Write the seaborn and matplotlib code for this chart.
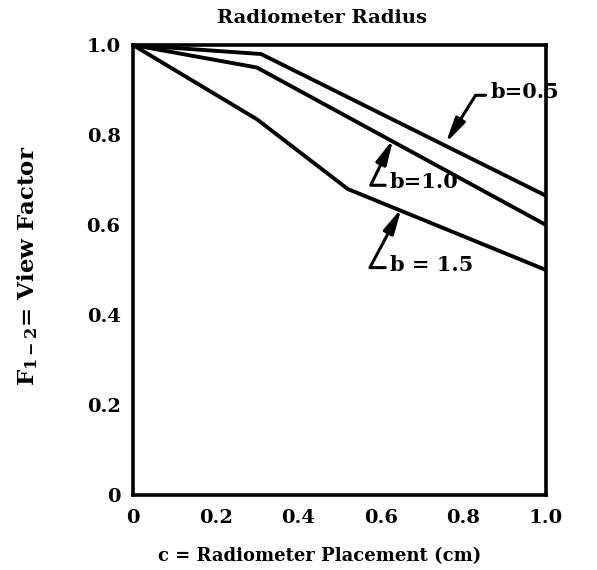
import numpy as np
import pandas as pd
import matplotlib
matplotlib.use("Agg")
import matplotlib.pyplot as plt
import seaborn as sns

# View factor curves for three radiometer radii
c_b05 = [0.0, 0.31, 1.0]
f_b05 = [1.0, 0.98, 0.665]
c_b10 = [0.0, 0.30, 1.0]
f_b10 = [1.0, 0.95, 0.60]
c_b15 = [0.0, 0.30, 0.52, 1.0]
f_b15 = [1.0, 0.835, 0.68, 0.50]

series_names = ["b=0.5", "b=1.0", "b = 1.5"]
x_ticks = [0, 0.2, 0.4, 0.6, 0.8, 1.0]
x_tick_labels = ["0", "0.2", "0.4", "0.6", "0.8", "1.0"]
y_ticks = [0, 0.2, 0.4, 0.6, 0.8, 1.0]
y_tick_labels = ["0", "0.2", "0.4", "0.6", "0.8", "1.0"]

frames = []
for name, cs, fs in zip(series_names, [c_b05, c_b10, c_b15], [f_b05, f_b10, f_b15]):
    frames.append(pd.DataFrame({"c": cs, "F": fs, "b": name}))
df = pd.concat(frames, ignore_index=True)

sns.set_theme(style="white")
plt.rcParams["font.family"] = ["DejaVu Serif"]
plt.rcParams["font.weight"] = "bold"
plt.rcParams["mathtext.fontset"] = "dejavuserif"
for key in ["text.color", "axes.labelcolor", "xtick.color", "ytick.color"]:
    plt.rcParams[key] = "black"

fig = plt.figure(figsize=(5.97, 5.70), dpi=100)
ax = fig.add_axes([0.2228, 0.1316, 0.6918, 0.7894])

sns.lineplot(data=df, x="c", y="F", hue="b", units="b", estimator=None,
             palette=["black"] * 3, linewidth=2.8, legend=False, ax=ax,
             sort=False)
for ln in ax.lines:
    ln.set_solid_joinstyle("round")
    ln.set_solid_capstyle("round")

ax.set_xlim(0, 1.0)
ax.set_ylim(0, 1.0)
ax.set_xticks(x_ticks)
ax.set_xticklabels(x_tick_labels)
ax.set_yticks(y_ticks)
ax.set_yticklabels(y_tick_labels)
ax.tick_params(direction="in", length=7, width=2.2, colors="black",
               labelsize=14, pad=10)
ax.tick_params(axis="y", pad=9)
for lab in ax.get_xticklabels() + ax.get_yticklabels():
    lab.set_fontweight("bold")
for sp in ax.spines.values():
    sp.set_linewidth(2.6)
    sp.set_color("black")

title = ax.set_title("Radiometer Radius", fontsize=14, fontweight="bold", pad=16)
title.set_x(0.458)
ax.set_xlabel("c = Radiometer Placement (cm)", fontsize=13,
              fontweight="bold")
ax.xaxis.set_label_coords(0.453, -0.115)
ax.set_ylabel(r"$\mathbf{F}_{\mathbf{1-2}}$= View Factor", fontsize=16.5,
              fontweight="bold")
ax.yaxis.set_label_coords(-0.225, 0.51)

# Callout labels with leader arrows onto each curve
label_specs = [
    # name, cs, fs, tip c, text c, text F, angleB
    (series_names[0], c_b05, f_b05, 0.757, 0.865, 0.895, 58),
    (series_names[1], c_b10, f_b10, 0.63, 0.622, 0.695, 244),
    (series_names[2], c_b15, f_b15, 0.65, 0.622, 0.512, 242),
]
for name, cs, fs, tip_c, tx, ty, angB in label_specs:
    tip_f = float(np.interp(tip_c, cs, fs))
    ax.annotate(
        name, xy=(tip_c, tip_f + 0.006), xytext=(tx, ty),
        fontsize=15, fontweight="bold", ha="left", va="center",
        annotation_clip=False,
        arrowprops=dict(arrowstyle="-|>,head_length=1.0,head_width=0.22",
                        color="black", lw=2.2, shrinkA=1, shrinkB=0,
                        relpos=(0.0, 0.35),
                        connectionstyle=f"angle,angleA=180,angleB={angB},rad=0"),
    )

fig.savefig("out.png", dpi=100, facecolor="white")
